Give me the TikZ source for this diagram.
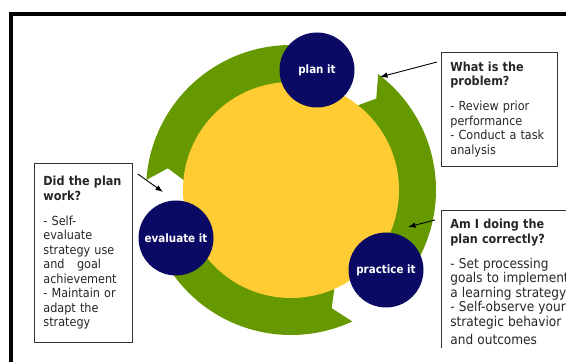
\documentclass[tikz,border=0pt]{standalone}
\usepackage{fontspec}
\setmainfont{DejaVu Sans Condensed}
\usepackage{tikz}
\usetikzlibrary{arrows.meta}
\usetikzlibrary{positioning}

\definecolor{ringgreen}{RGB}{102,153,0}
\definecolor{sun}{RGB}{255,204,51}
\definecolor{ink}{RGB}{10,10,100}

\tikzset{
  stage/.style={circle, fill=ink, minimum size=75pt, inner sep=0pt,
    text=white, font=\fontsize{11.5}{14}\selectfont\bfseries},
  note/.style={draw=black!80, line width=0.8pt, anchor=north west, align=left,
    inner xsep=9pt, inner ysep=9pt, text=black!85,
    font=\fontsize{12.5}{14.5}\selectfont},
  pointer/.style={->, line width=0.9pt},
}

\begin{document}
\begin{tikzpicture}[>={Latex[length=7.5pt, width=5.5pt]}, x=1pt, y=1pt]
\clip (0,0) rectangle (566,362);
\useasboundingbox (0,0) rectangle (566,362);
% heavy frame, running off the page
\draw[line width=4pt] (10.5,-10) -- (10.5,347.5) -- (600,347.5);

\coordinate (C) at (291,172);

% three notched arcs turning clockwise
\foreach \t/\h in {53/-40, -65/-158, 176/78} {
  \fill[ringgreen, shift={(C)}] (\t:145) arc[start angle=\t, end angle=\h, radius=145pt]
    -- ({\h-10}:125) -- (\h:104) arc[start angle=\h, end angle=\t, radius=104pt]
    -- ({\t-6}:125) -- cycle;
}
\fill[sun] (C) circle[radius=108pt];

\node[stage] (plan) at (317,292) {plan it};
\node[stage] (prac) at (386,92) {practice it};
\node[stage] (eval) at (176,124) {evaluate it};

% callouts
\node[note, minimum width=116pt, minimum height=114pt, text width=98pt] (Q1) at (441,310)
  {{\bfseries What is the\\problem?}\\[10.5pt]- Review prior\\performance\\- Conduct a task\\analysis};
\node[note, draw=none, text width=170pt] (Q2) at (441,152)
  {{\bfseries Am I doing the\\plan correctly?}\\[10.5pt]{\fontsize{13.5}{14.5}\selectfont
   - Set processing\\goals to implement\\a learning strategy\\- Self-observe your\\strategic behavior\\[3.5pt]and outcomes}};
\node[note, minimum width=98pt, minimum height=179pt, text width=80pt] (Q3) at (34,199)
  {{\bfseries Did the plan\\work?}\\[10.5pt]- Self-\\evaluate\\strategy use\\and~~~goal\\achievement\\- Maintain or\\adapt the\\strategy};
\coordinate (Q2 foot) at (441,14);
\draw[black!80, line width=0.8pt] (Q2.north east) -- (Q2.north west) -- (Q2 foot);

\coordinate (hit1) at (380,285);
\coordinate (hit2) at (408,135);
\coordinate (hit3) at (163,170);
\draw[pointer] ([xshift=-4pt, yshift=-10pt]Q1.north west) -- (hit1);
\draw[pointer] ([xshift=-6pt, yshift=-10pt]Q2.north west) -- (hit2);
\draw[pointer] ([xshift=5pt, yshift=-11pt]Q3.north east) -- (hit3);
\end{tikzpicture}
\end{document}
